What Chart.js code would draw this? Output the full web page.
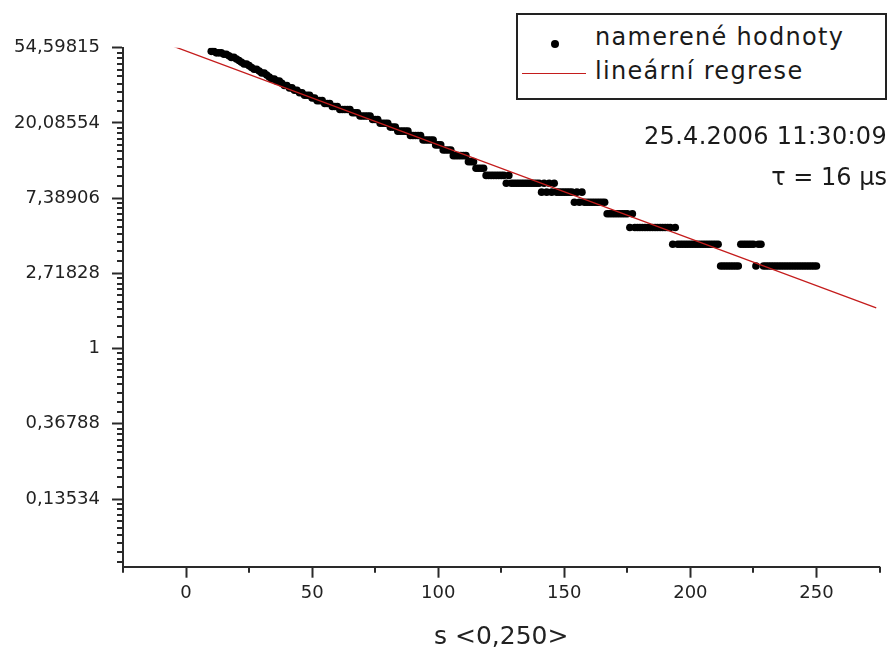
<!DOCTYPE html>
<html>
<head>
<meta charset="utf-8">
<script src="https://cdn.jsdelivr.net/npm/chart.js@4.4.1/dist/chart.umd.min.js"></script>
<style>
  body { margin: 0; background: #fff; }
  #wrap { position: relative; width: 893px; height: 650px; font-family: 'DejaVu Sans', sans-serif; color: #1a1a1a; }
  canvas { position: absolute; left: 0; top: 0; }
  .legend { position: absolute; left: 516px; top: 13px; width: 371px; height: 87px; box-sizing: border-box; border: 2px solid #222; background: #fff; }
  .txt { position: absolute; white-space: nowrap; line-height: 1; }
  .leg-text { font-size: 24px; letter-spacing: 1.3px; left: 77px; }
  .dot { position: absolute; left: 33px; top: 25px; width: 8px; height: 8px; border-radius: 50%; background: #000; }
  .redline { position: absolute; left: 4px; top: 58px; width: 64px; height: 1px; background: #c41c1c; }
  .note { font-size: 24px; right: 6px; }
</style>
</head>
<body>
<div id="wrap">
  <canvas id="chart" width="893" height="650"></canvas>
  <div class="legend">
    <div class="dot"></div>
    <div class="txt leg-text" style="top:10px">namerené hodnoty</div>
    <div class="redline"></div>
    <div class="txt leg-text" style="top:44px">lineární regrese</div>
  </div>
  <div class="txt note" style="top:124px; letter-spacing:0.3px">25.4.2006 11:30:09</div>
  <div class="txt note" style="top:165px">τ = 16 μs</div>
</div>
<script>
// namerené hodnoty: s = 10 .. 250, krok 1
const sStart = 10;
const counts = [
    52, 52, 51, 51, 51, 50, 50, 49, 48, 48,   // 10
    47, 46, 45, 44, 44, 43, 42, 41, 41, 40,   // 20
    39, 39, 38, 37, 36, 36, 35, 35, 34, 33,   // 30
    33, 32, 32, 31, 31, 30, 30, 29, 29, 29,   // 40
    28, 28, 27, 27, 27, 26, 26, 26, 25, 25,   // 50
    25, 24, 24, 24, 24, 24, 23, 23, 23, 22,   // 60
    22, 22, 22, 22, 21, 21, 21, 20, 20, 20,   // 70
    20, 19, 19, 19, 18, 18, 18, 18, 18, 17,   // 80
    17, 17, 17, 17, 16, 16, 16, 16, 16, 15,   // 90
    15, 15, 14, 14, 14, 14, 13, 13, 13, 13,   // 100
    13, 13, 12, 12, 12, 11, 11, 11, 11, 10,   // 110
    10, 10, 10, 10, 10, 10, 10, 9, 10, 9,     // 120
    9, 9, 9, 9, 9, 9, 9, 9, 9, 9,             // 130
    9, 8, 9, 8, 9, 8, 9, 8, 8, 8,             // 140
    8, 8, 8, 8, 7, 8, 7, 8, 7, 7,             // 150
    7, 7, 7, 7, 7, 7, 7, 6, 6, 6,             // 160
    6, 6, 6, 6, 6, 6, 5, 6, 5, 5,             // 170
    5, 5, 5, 5, 5, 5, 5, 5, 5, 5,             // 180
    5, 5, 5, 4, 5, 4, 4, 4, 4, 4,             // 190
    4, 4, 4, 4, 4, 4, 4, 4, 4, 4,             // 200
    4, 4, 3, 3, 3, 3, 3, 3, 3, 3,             // 210
    4, 4, 4, 4, 4, 4, 3, 4, 4, 3,             // 220
    3, 3, 3, 3, 3, 3, 3, 3, 3, 3,             // 230
    3, 3, 3, 3, 3, 3, 3, 3, 3, 3, 3           // 240 .. 250
];

// lineární regrese (koncové body)
const regS = [-5.7, 273.7];
const regY = [56.1, 1.72];

// osy
const xTicks = [0, 50, 100, 150, 200, 250];
const xMinorTicks = [-25, 25, 75, 125, 175, 225, 275];
const yTickPowers = [4, 3, 2, 1, 0, -1, -2];
const yTickLabels = ['54,59815', '20,08554', '7,38906', '2,71828', '1', '0,36788', '0,13534'];

const axisColor = '#2a2a2a';

// vedlejší značky na osách
const minorTicks = {
    id: 'minorTicks',
    afterDraw(chart) {
        const { ctx, chartArea, scales } = chart;
        const x = scales.x, y = scales.y;
        ctx.save();
        ctx.strokeStyle = axisColor;
        ctx.lineWidth = 2;
        ctx.beginPath();
        for (let k = -3; k < 4; k++) {
            const lo = Math.exp(k), hi = Math.exp(k + 1);
            for (let j = 1; j < 10; j++) {
                const v = lo + j * (hi - lo) / 10;
                if (v < y.min || v > y.max) continue;
                const py = Math.round(y.getPixelForValue(v));
                ctx.moveTo(chartArea.left - 6, py);
                ctx.lineTo(chartArea.left, py);
            }
        }
        xMinorTicks.forEach(v => {
            const px = Math.round(x.getPixelForValue(v));
            ctx.moveTo(px, chartArea.bottom);
            ctx.lineTo(px, chartArea.bottom + 6);
        });
        ctx.stroke();
        ctx.restore();
    }
};

Chart.defaults.font.family = "'DejaVu Sans', sans-serif";
Chart.defaults.color = '#222';

const points = counts.map((c, i) => ({ x: sStart + i, y: c }));
const regLine = regS.map((s, i) => ({ x: s, y: regY[i] }));

new Chart(document.getElementById('chart'), {
    type: 'scatter',
    data: {
        datasets: [{
            label: 'namerené hodnoty',
            data: points,
            backgroundColor: '#000',
            borderColor: '#000',
            pointRadius: 3.8,
            borderWidth: 0,
            order: 1
        }, {
            type: 'line',
            label: 'lineární regrese',
            data: regLine,
            borderColor: '#c41c1c',
            borderWidth: 1.3,
            pointRadius: 0,
            fill: false,
            order: 0
        }]
    },
    plugins: [minorTicks],
    options: {
        responsive: false,
        animation: false,
        layout: { padding: { top: 47.7, right: 13.5, left: 0, bottom: 0 } },
        plugins: {
            legend: { display: false },
            tooltip: { enabled: false }
        },
        scales: {
            x: {
                type: 'linear',
                min: -25,
                max: 275,
                afterBuildTicks: scale => { scale.ticks = xTicks.map(v => ({ value: v })); },
                afterFit: scale => { scale.height = 83.3; },
                ticks: {
                    padding: 5,
                    font: { size: 18 },
                    callback: v => String(v)
                },
                grid: { drawOnChartArea: false, tickLength: 11, tickColor: axisColor, tickWidth: 2 },
                border: { color: axisColor, width: 2 },
                title: {
                    display: true,
                    text: 's <0,250>',
                    font: { size: 25, lineHeight: 1 },
                    padding: 0
                }
            },
            y: {
                type: 'logarithmic',
                min: Math.exp(-2.9),
                max: Math.exp(4),
                afterBuildTicks: scale => { scale.ticks = yTickPowers.map(p => ({ value: Math.exp(p) })); },
                afterFit: scale => { scale.width = 123; },
                ticks: {
                    padding: 12,
                    font: { size: 18 },
                    callback: v => {
                        const i = yTickPowers.findIndex(p => Math.abs(Math.log(v) - p) < 1e-6);
                        return i >= 0 ? yTickLabels[i] : '';
                    }
                },
                grid: { drawOnChartArea: false, tickLength: 11, tickColor: axisColor, tickWidth: 2 },
                border: { color: axisColor, width: 2 }
            }
        }
    }
});
</script>
</body>
</html>
